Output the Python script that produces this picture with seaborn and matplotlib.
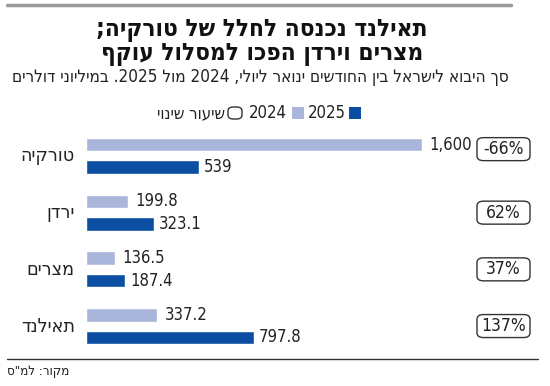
import re
import pandas as pd
import matplotlib
matplotlib.use('Agg')
import matplotlib.pyplot as plt
import seaborn as sns
from matplotlib.patches import FancyBboxPatch, Rectangle
from matplotlib.lines import Line2D

# data
countries = ['טורקיה', 'ירדן', 'מצרים', 'תאילנד']
imports_2024 = [1600, 199.8, 136.5, 337.2]
imports_2025 = [539, 323.1, 187.4, 797.8]
labels_2024 = ['1,600', '199.8', '136.5', '337.2']
labels_2025 = ['539', '323.1', '187.4', '797.8']
change_labels = ['-66%', '62%', '37%', '137%']
years = ['2024', '2025']

title = 'תאילנד נכנסה לחלל של טורקיה;\nמצרים וירדן הפכו למסלול עוקף'
subtitle = 'סך היבוא לישראל בין החודשים ינואר ליולי, 2024 מול 2025. במיליוני דולרים'
legend_change = 'שיעור שינוי'
source = 'מקור: למ"ס'

LIGHT = '#aab5dc'
DARK = '#0b4ea2'
INK = '#222222'


# matplotlib has no bidi, so flip hebrew into visual order, keep numbers as they are
def vis(s):
    r = s[::-1]
    return re.sub(r'[0-9][0-9.,]*[0-9]|[0-9]', lambda m: m.group(0)[::-1], r)


sns.set_theme(style='white')
plt.rcParams['font.family'] = ['DejaVu Sans']
plt.rcParams['font.stretch'] = 'condensed'

df = pd.DataFrame({
    'country': countries * 2,
    'value': imports_2024 + imports_2025,
    'year': [years[0]] * 4 + [years[1]] * 4,
})

W, H = 550, 386
fig = plt.figure(figsize=(W / 100, H / 100), dpi=100)
fig.patch.set_facecolor('white')

# axes placed in pixel terms: bars start at x=86, 1600 -> 336px
ax = fig.add_axes([86 / W, 1 - 354.4 / H, 336 / W, 226.8 / H])
sns.barplot(data=df, y='country', x='value', hue='year', orient='h',
            palette={'2024': LIGHT, '2025': DARK}, saturation=1,
            width=0.8, gap=0.4, order=countries, hue_order=years,
            legend=False, ax=ax)
ax.set_xlim(0, 1600)
ax.set_ylim(3.5, -0.5)
ax.axis('off')

for i, c in enumerate(countries):
    # value labels next to the bar ends
    ax.annotate(labels_2024[i], (imports_2024[i], i - 0.2), xytext=(5.5, 0),
                textcoords='offset points', va='center', ha='left',
                fontsize=12, color=INK, annotation_clip=False)
    ax.annotate(labels_2025[i], (imports_2025[i], i + 0.2), xytext=(3.5, 0),
                textcoords='offset points', va='center', ha='left',
                fontsize=12, color=INK, annotation_clip=False)
    # country names to the left
    y_disp = ax.transData.transform((0, i))[1] / fig.bbox.height
    fig.text(75 / W, y_disp, vis(c), ha='right', va='center',
             fontsize=14, color=INK)
    # change boxes on the right
    yb = i - (0.12 if i == 0 else 0.0)
    yb_disp = ax.transData.transform((0, yb))[1] / fig.bbox.height
    box = FancyBboxPatch((477 / W, yb_disp - 11.5 / H), 53 / W, 23 / H,
                         boxstyle='round,pad=0,rounding_size=0.012',
                         transform=fig.transFigure, facecolor='white',
                         edgecolor='#333333', linewidth=1.0)
    fig.patches.append(box)
    fig.text(503.5 / W, yb_disp, change_labels[i], ha='center', va='center',
             fontsize=12.5, color=INK)

# header
fig.add_artist(Line2D([7 / W, 511 / W], [1 - 5 / H, 1 - 5 / H], color='#9a9a9a',
                      linewidth=2.5, transform=fig.transFigure))
fig.text(262 / W, 1 - 42 / H, '\n'.join(vis(l) for l in title.split('\n')),
         ha='center', va='center', fontsize=17.5, fontweight='bold',
         linespacing=0.95, color='#111111')
fig.text(260 / W, 1 - 77 / H, vis(subtitle), ha='center', va='center',
         fontsize=12.3, color=INK)

# legend
ly = 1 - 113 / H
fig.patches.append(Rectangle((349 / W, ly - 6 / H), 12 / W, 12 / H,
                             transform=fig.transFigure, facecolor=DARK, edgecolor='none'))
fig.text(346 / W, ly, years[1], ha='right', va='center', fontsize=12, color=INK)
fig.patches.append(Rectangle((292 / W, ly - 6 / H), 12 / W, 12 / H,
                             transform=fig.transFigure, facecolor=LIGHT, edgecolor='none'))
fig.text(287 / W, ly, years[0], ha='right', va='center', fontsize=12, color=INK)
fig.patches.append(FancyBboxPatch((228 / W, ly - 6 / H), 14 / W, 12 / H,
                                  boxstyle='round,pad=0,rounding_size=0.01',
                                  transform=fig.transFigure, facecolor='white',
                                  edgecolor='#333333', linewidth=1.0))
fig.text(225 / W, ly, vis(legend_change), ha='right', va='center', fontsize=12, color=INK)

# footer
fig.add_artist(Line2D([7 / W, 538 / W], [1 - 359 / H, 1 - 359 / H], color='#333333',
                      linewidth=1.0, transform=fig.transFigure))
fig.text(7 / W, 1 - 371 / H, vis(source), ha='left', va='center', fontsize=9.5, color=INK)

fig.savefig('out.png', dpi=100, facecolor='white')
